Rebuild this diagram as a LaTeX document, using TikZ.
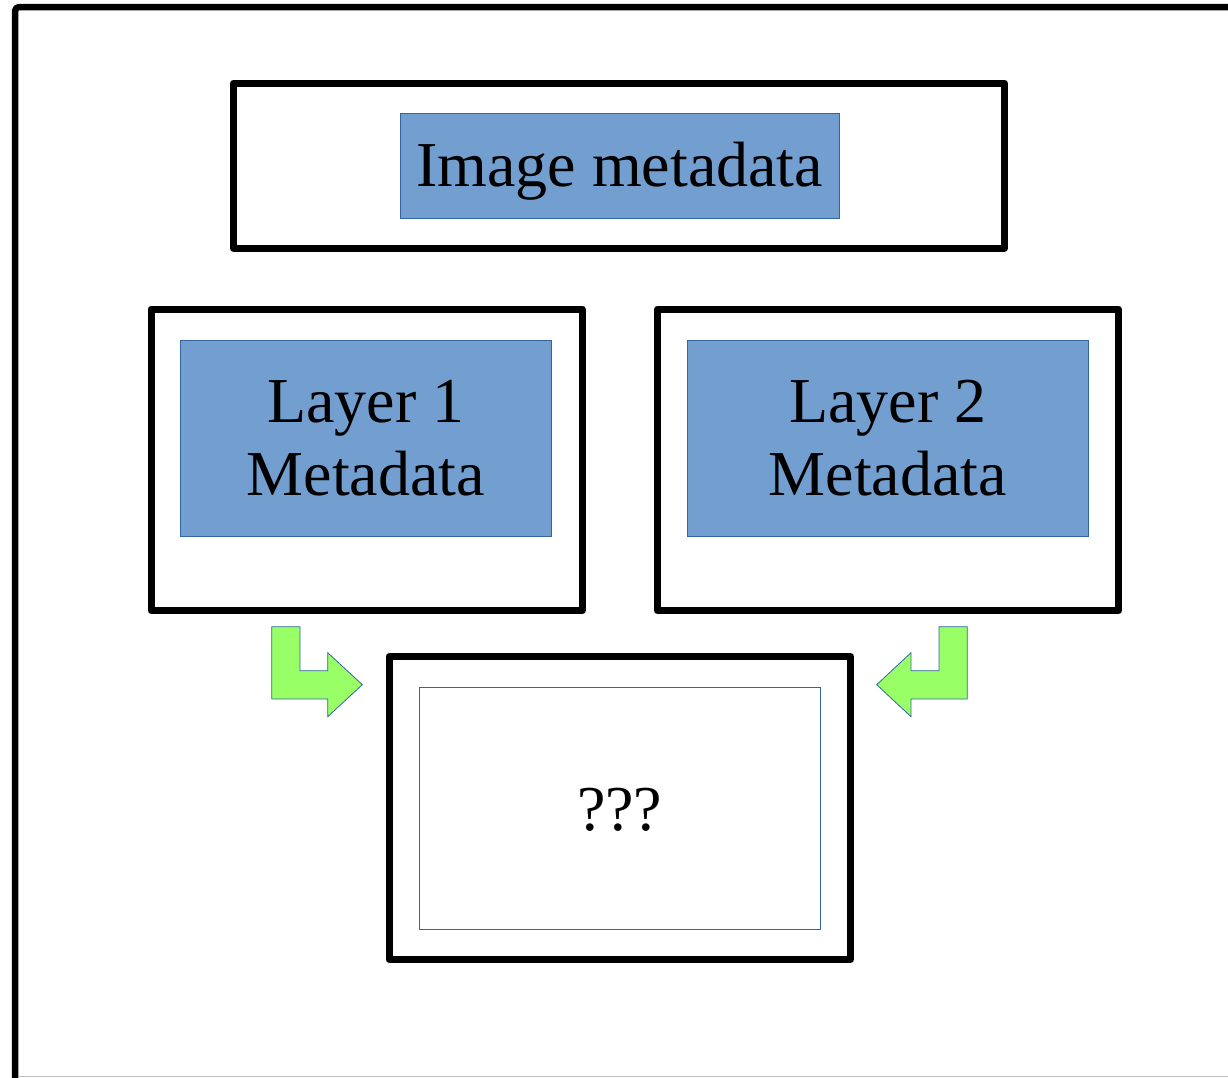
\documentclass[tikz,border=0pt]{standalone}
\usepackage{fontspec}
\setmainfont{Liberation Serif}
\definecolor{boxblue}{HTML}{729FCF}
\definecolor{edgeblue}{HTML}{3465A4}
\definecolor{arrowgreen}{HTML}{99FF66}
\tikzset{
  frame/.style={draw=black, line width=7pt, line join=round},
  bluebox/.style={draw=edgeblue, fill=boxblue, line width=0.8pt},
  whitebox/.style={draw=edgeblue, fill=white, line width=0.8pt},
  label/.style={font=\fontsize{64}{73}\selectfont, align=center, inner sep=0pt},
  greenarrow/.style={draw=edgeblue, fill=arrowgreen, line width=0.8pt, line join=miter}
}
\begin{document}
\begin{tikzpicture}[x=1pt,y=-1pt]
\useasboundingbox (0,0) rectangle (1228,1077);
\begin{scope}
\clip (0,0) rectangle (1228,1077);
\draw[line width=6.5pt, line join=round, rounded corners=4pt] (15,1090) -- (15,7) -- (1240,7);
\draw[line width=1.5pt, draw=black!25] (18,1076.5) -- (1228,1076.5);
\end{scope}

% Image metadata
\draw[frame] (233.5,83) rectangle (1004.5,248);
\path[bluebox] (400,113) rectangle (839,218);
\node[label, anchor=base] (img) at (619.5,186) {Image metadata};

% Layer 1
\draw[frame] (151,309) rectangle (582,610.5);
\path[bluebox] (180.5,340) rectangle (551,536);
\node[label] (l1) at (365.75,438) {Layer 1\\Metadata};

% Layer 2
\draw[frame] (657.5,309) rectangle (1118.5,610.5);
\path[bluebox] (687.5,340) rectangle (1088,536);
\node[label] (l2) at (887.75,438) {Layer 2\\Metadata};

% ??? box
\draw[frame] (389,656.5) rectangle (850.5,959.5);
\path[whitebox] (419.3,687) rectangle (820,929);
\node[label, anchor=base] (q) at (619.65,830) {???};

% arrows
\path[greenarrow] (271.7,626.7) -- (300,626.7) -- (300,670.7) -- (327.7,670.7)
  -- (327.7,652.7) -- (362.3,684.7) -- (327.7,716.7) -- (327.7,699) -- (271.7,699) -- cycle;
\path[greenarrow] (967.3,626.7) -- (939,626.7) -- (939,670.7) -- (911,670.7)
  -- (911,652.7) -- (876.7,684.7) -- (911,716.7) -- (911,699) -- (967.3,699) -- cycle;
\end{tikzpicture}
\end{document}
